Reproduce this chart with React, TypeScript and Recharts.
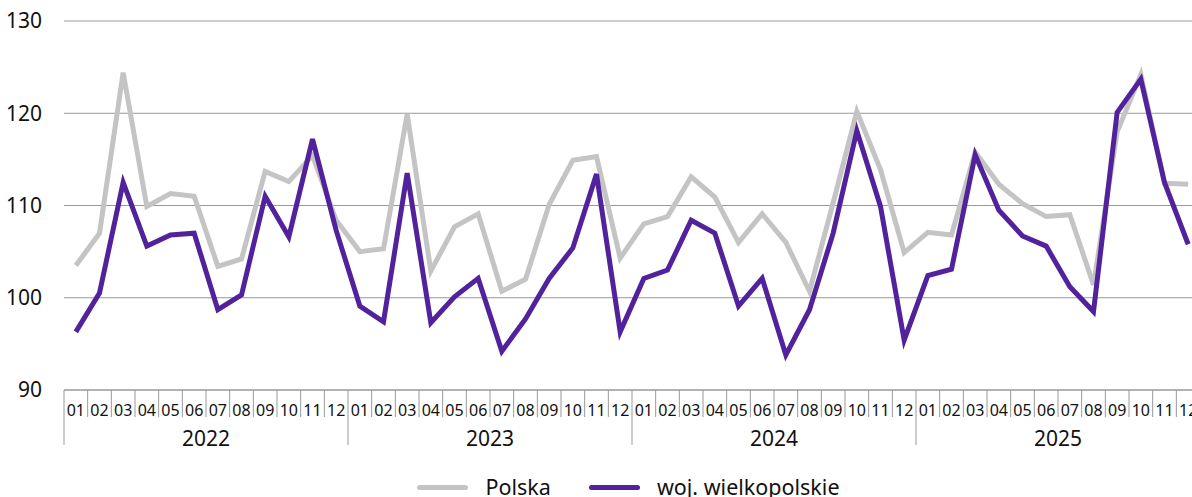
import React from "react";
import { LineChart, Line, XAxis, YAxis, CartesianGrid, Legend } from "recharts";

const years = ["2022", "2023", "2024", "2025"];
const months = ["01", "02", "03", "04", "05", "06", "07", "08", "09", "10", "11", "12"];

const polska = [
  103.5, 107.0, 124.4, 109.9, 111.3, 111.0, 103.4, 104.2, 113.7, 112.6, 115.4, 108.4,
  105.0, 105.3, 119.9, 102.9, 107.7, 109.1, 100.7, 102.0, 110.1, 114.9, 115.3, 104.3,
  108.0, 108.8, 113.1, 110.9, 106.0, 109.1, 106.0, 100.7, 110.3, 120.2, 113.9, 104.9,
  107.1, 106.8, 115.8, 112.3, 110.2, 108.8, 109.0, 101.4, 118.0, 124.2, 112.4, 112.3,
];

const wielkopolskie = [
  96.3, 100.5, 112.5, 105.6, 106.8, 107.0, 98.7, 100.3, 111.0, 106.6, 117.2, 107.3,
  99.1, 97.4, 113.5, 97.3, 100.1, 102.1, 94.2, 97.7, 102.1, 105.4, 113.4, 96.3,
  102.1, 103.0, 108.4, 107.0, 99.1, 102.1, 93.8, 98.7, 107.0, 118.1, 109.9, 95.4,
  102.4, 103.1, 115.5, 109.5, 106.7, 105.6, 101.2, 98.5, 120.1, 123.7, 112.5, 105.8,
];

const yTicks = [90, 100, 110, 120, 130];

const seriesNames = { polska: "Polska", wlkp: "woj. wielkopolskie" };
const colors = { polska: "#c4c4c4", wlkp: "#52229c" };

const data = years.flatMap((yr, yi) =>
  months.map((mo, mi) => ({
    key: `${yr}-${mo}`,
    polska: polska[yi * 12 + mi],
    wlkp: wielkopolskie[yi * 12 + mi],
  }))
);

const W = 1200;
const H = 497;
const YW = 64;
const BW = (W - YW) / data.length;
const FONT = "'Noto Sans', 'Open Sans', sans-serif";
const AXIS_GRAY = "#999999";

const MonthTick = (props: any) => {
  const { x, y, payload } = props;
  const [yr, mo] = String(payload.value).split("-");
  const first = mo === "01";
  const lx = x - BW / 2;
  return (
    <g>
      <line x1={lx} x2={lx} y1={y} y2={y + (first ? 55 : 27)} stroke={AXIS_GRAY} strokeWidth={1} />
      <text x={x} y={y + 20} textAnchor="middle" dominantBaseline="central" fontSize={16} fill="#111" fontFamily={FONT}>
        {mo}
      </text>
      {first && (
        <text x={x + 5.5 * BW} y={y + 48} textAnchor="middle" dominantBaseline="central" fontSize={21} fill="#111" fontFamily={FONT}>
          {yr}
        </text>
      )}
    </g>
  );
};

const renderLegend = () => (
  <div
    style={{
      display: "flex",
      justifyContent: "center",
      alignItems: "center",
      height: 20,
      paddingLeft: 57,
      fontFamily: FONT,
      fontSize: 21.5,
      color: "#111",
    }}
  >
    {(["polska", "wlkp"] as const).map((k, i) => (
      <div key={k} style={{ display: "flex", alignItems: "center", marginLeft: i === 0 ? 0 : 38 }}>
        <div style={{ width: 51, height: 5, borderRadius: 3, background: colors[k], marginRight: 17 }} />
        <span style={{ lineHeight: "20px", whiteSpace: "nowrap" }}>{seriesNames[k]}</span>
      </div>
    ))}
  </div>
);

export default function App() {
  return (
    <div
      style={{
        position: "fixed",
        left: 0,
        top: 0,
        width: 1192,
        height: H,
        overflow: "hidden",
        fontFamily: FONT,
        background: "#fff",
      }}
    >
      <LineChart width={W} height={H} data={data} margin={{ top: 21, right: 0, left: 0, bottom: 0 }}>
        <CartesianGrid vertical={false} stroke={AXIS_GRAY} strokeWidth={1} />
        <XAxis
          dataKey="key"
          scale="band"
          interval={0}
          height={87}
          tickSize={0}
          tickMargin={0}
          tickLine={false}
          axisLine={{ stroke: AXIS_GRAY }}
          tick={<MonthTick />}
        />
        <YAxis
          domain={[90, 130]}
          ticks={yTicks}
          width={YW}
          axisLine={false}
          tickLine={false}
          tickSize={0}
          tickMargin={22}
          tick={{ fontSize: 21, fill: "#111", fontFamily: FONT }}
        />
        <Legend verticalAlign="bottom" content={renderLegend} />
        <Line type="linear" dataKey="polska" stroke={colors.polska} strokeWidth={5} dot={false} isAnimationActive={false} />
        <Line type="linear" dataKey="wlkp" stroke={colors.wlkp} strokeWidth={5} dot={false} isAnimationActive={false} />
      </LineChart>
    </div>
  );
}
